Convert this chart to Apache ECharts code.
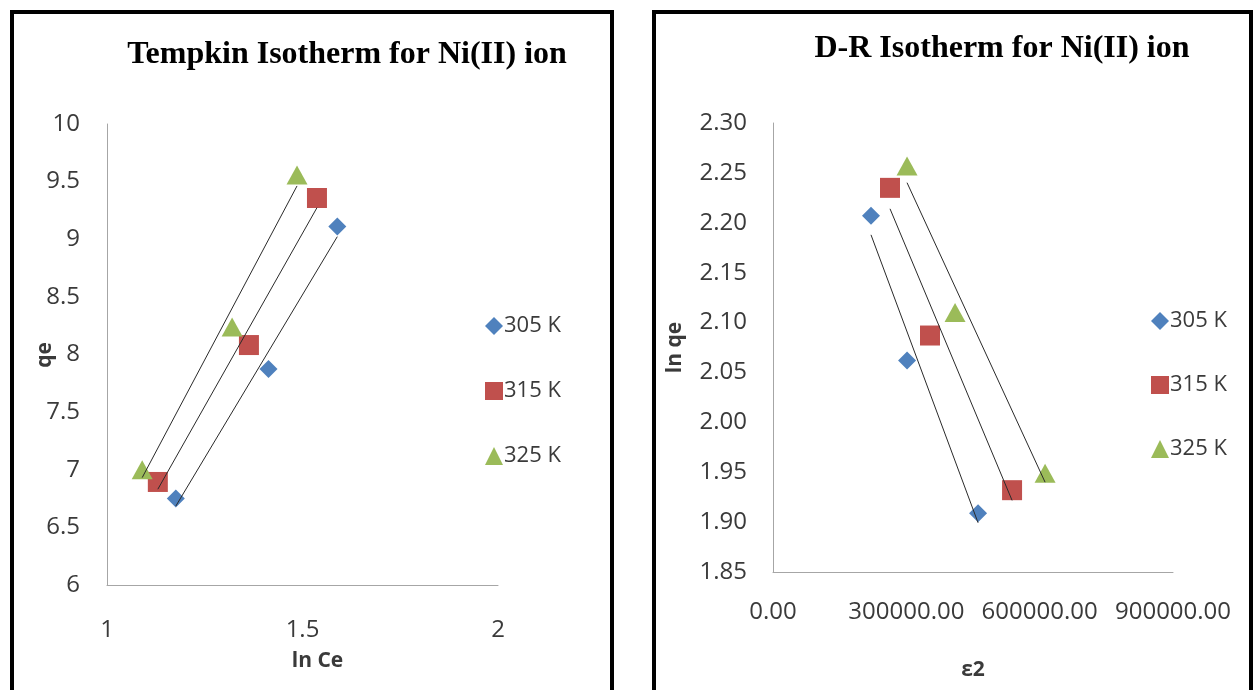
<!DOCTYPE html>
<html>
<head>
  <meta charset="UTF-8">
  <title>Tempkin and D-R Isotherm for Ni(II) ion</title>
  <script src="https://cdn.jsdelivr.net/npm/echarts@6/dist/echarts.min.js"></script>
  <style>
    html, body { margin: 0; padding: 0; background: #fff; }
    #main { width: 1255px; height: 690px; }
  </style>
</head>
<body>
  <div id="main"></div>
  <script>
    // Tempkin isotherm: ln Ce vs qe
    var lnCe305 = [1.176, 1.413, 1.589];
    var qe305 = [6.75, 7.874, 9.11];
    var lnCe315 = [1.130, 1.363, 1.537];
    var qe315 = [6.894, 8.082, 9.358];
    var lnCe325 = [1.090, 1.320, 1.486];
    var qe325 = [7.00, 8.239, 9.557];

    // D-R isotherm: eps^2 vs ln qe
    var eps305 = [220500, 301600, 461400];
    var lnqe305 = [2.207, 2.062, 1.909];
    var eps315 = [263300, 353300, 537900];
    var lnqe315 = [2.235, 2.087, 1.932];
    var eps325 = [301600, 409600, 612200];
    var lnqe325 = [2.257, 2.110, 1.949];

    var seriesNames = ['305 K', '315 K', '325 K'];
    var colors = ['#4f81bd', '#c0504d', '#9bbb59'];
    var symbols = ['diamond', 'rect', 'triangle'];
    var symbolSizes = [[18, 18], [20, 20], [21, 19]];

    var txt = '#3a3a3a';
    var font = '"Open Sans", "DejaVu Sans", sans-serif';

    function pairs(xs, ys) {
      return xs.map(function (x, i) { return [x, ys[i]]; });
    }

    // linear least-squares trendline over the data's x range
    function trend(xs, ys) {
      var n = xs.length, mx = 0, my = 0;
      for (var i = 0; i < n; i++) { mx += xs[i]; my += ys[i]; }
      mx /= n; my /= n;
      var sxy = 0, sxx = 0;
      for (var j = 0; j < n; j++) {
        sxy += (xs[j] - mx) * (ys[j] - my);
        sxx += (xs[j] - mx) * (xs[j] - mx);
      }
      var b = sxy / sxx, a = my - b * mx;
      var x0 = Math.min.apply(null, xs), x1 = Math.max.apply(null, xs);
      return [[x0, a + b * x0], [x1, a + b * x1]];
    }

    var tempkin = [[lnCe305, qe305], [lnCe315, qe315], [lnCe325, qe325]];
    var dr = [[eps305, lnqe305], [eps315, lnqe315], [eps325, lnqe325]];

    var series = [];
    [tempkin, dr].forEach(function (set, g) {
      set.forEach(function (d, k) {
        series.push({
          name: seriesNames[k],
          type: 'scatter',
          xAxisIndex: g,
          yAxisIndex: g,
          symbol: symbols[k],
          symbolSize: symbolSizes[k],
          itemStyle: { color: colors[k], opacity: 1 },
          data: pairs(d[0], d[1]),
          z: 2
        });
        series.push({
          name: 'trend ' + seriesNames[k],
          type: 'line',
          xAxisIndex: g,
          yAxisIndex: g,
          symbol: 'none',
          silent: true,
          lineStyle: { color: '#2a2a2a', width: 1 },
          data: trend(d[0], d[1]),
          z: 3
        });
      });
    });

    function valueAxis(opts) {
      return Object.assign({
        type: 'value',
        splitLine: { show: false },
        axisTick: { show: false },
        axisLine: { show: true, lineStyle: { color: '#a6a6a6', width: 1 } },
        nameLocation: 'middle',
        nameTextStyle: { color: txt, fontSize: 21, fontWeight: 'bold', fontFamily: font }
      }, opts);
    }

    var myChart = echarts.init(document.getElementById('main'));
    var option = {
      backgroundColor: '#fff',
      animation: false,
      grid: [
        { left: 107, top: 124, width: 391, height: 461 },
        { left: 773, top: 123, width: 400, height: 449 }
      ],
      xAxis: [
        valueAxis({
          gridIndex: 0, min: 1, max: 2, interval: 0.5,
          name: 'ln Ce', nameGap: 66,
          nameTextStyle: { color: txt, fontSize: 21, fontWeight: 'bold', fontFamily: font, padding: [0, 0, 0, 30] },
          axisLabel: { color: txt, fontSize: 24, fontFamily: font, margin: 33 }
        }),
        valueAxis({
          gridIndex: 1, min: 0, max: 900000, interval: 300000,
          name: 'ε2', nameGap: 88,
          axisLabel: {
            color: txt, fontSize: 24, fontFamily: font, margin: 28,
            formatter: function (v) { return v.toFixed(2); }
          }
        })
      ],
      yAxis: [
        valueAxis({
          gridIndex: 0, min: 6, max: 10, interval: 0.5,
          axisLabel: { color: txt, fontSize: 24, fontFamily: font, margin: 27 }
        }),
        valueAxis({
          gridIndex: 1, min: 1.85, max: 2.30, interval: 0.05,
          name: 'ln qe', nameGap: 87,
          axisLabel: {
            color: txt, fontSize: 24, fontFamily: font, margin: 26,
            formatter: function (v) { return v.toFixed(2); }
          }
        })
      ],
      legend: [
        {
          data: seriesNames, orient: 'vertical', left: 480, top: 310,
          itemGap: 43, itemWidth: 18, itemHeight: 18,
          textStyle: { color: txt, fontSize: 22, fontFamily: font, padding: [0, 0, 0, -4] },
          selectedMode: false
        },
        {
          data: seriesNames, orient: 'vertical', left: 1146, top: 305,
          itemGap: 42, itemWidth: 18, itemHeight: 18,
          textStyle: { color: txt, fontSize: 22, fontFamily: font, padding: [0, 0, 0, -4] },
          selectedMode: false
        }
      ],
      graphic: [
        {
          type: 'rect', shape: { x: 12, y: 12, width: 600, height: 700 },
          style: { fill: 'none', stroke: '#000', lineWidth: 4 }
        },
        {
          type: 'rect', shape: { x: 654, y: 12, width: 597, height: 700 },
          style: { fill: 'none', stroke: '#000', lineWidth: 4 }
        },
        {
          type: 'text', x: 347, y: 55,
          style: {
            text: 'Tempkin Isotherm for Ni(II) ion', fill: '#000',
            font: 'bold 32px "Liberation Serif", "DejaVu Serif", serif',
            textAlign: 'center', textVerticalAlign: 'middle'
          }
        },
        {
          type: 'text', x: 1002, y: 49,
          style: {
            text: 'D-R Isotherm for Ni(II) ion', fill: '#000',
            font: 'bold 32px "Liberation Serif", "DejaVu Serif", serif',
            textAlign: 'center', textVerticalAlign: 'middle'
          }
        },
        {
          type: 'text', x: 45, y: 355, rotation: Math.PI / 2,
          style: {
            text: 'qe', fill: txt,
            font: 'bold 21px "Open Sans", "DejaVu Sans", sans-serif',
            textAlign: 'center', textVerticalAlign: 'middle'
          }
        }
      ],
      series: series
    };
    myChart.setOption(option);
  </script>
</body>
</html>
